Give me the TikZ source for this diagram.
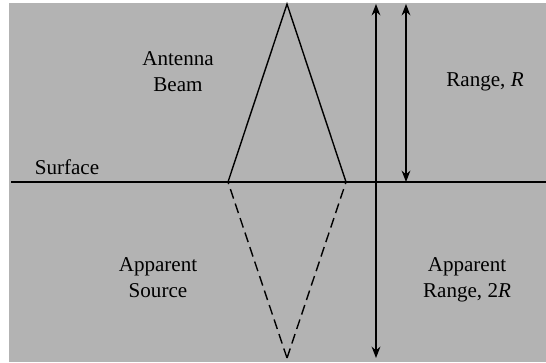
\documentclass[tikz,border=0pt]{standalone}
\usepackage{fontspec}
\setmainfont{LiberationSerif}[Extension=.ttf,UprightFont=*-Regular,ItalicFont=*-Italic,BoldFont=*-Bold]
\usetikzlibrary{arrows.meta}
\definecolor{cBack}{HTML}{B3B3B3}

\begin{document}
\begin{tikzpicture}[x=0.02cm,y=-0.02cm,line width=0.8pt,
  lbl/.style={font=\fontsize{12}{14.8}\selectfont,align=center,inner sep=0pt},
  rng/.style={{Stealth[length=6.5pt,width=5pt]}-{Stealth[length=6.5pt,width=5pt]}}]
  \useasboundingbox (0,0) rectangle (546,362);
  \fill[cBack] (9,3) rectangle (546,362);
  % surface and beam
  \coordinate (sL) at (11,182);  \coordinate (sR) at (546,182);
  \coordinate (apex) at (287,4); \coordinate (image) at (287,358);
  \coordinate (bL) at (228,182); \coordinate (bR) at (346,182);
  \draw (sL) -- (sR);
  \draw (bL) -- (apex) -- (bR);
  \draw[dash pattern=on 5.7pt off 3pt] (image) -- (bL) (image) -- (bR);
  % ranges
  \coordinate (aTop) at (376,4); \coordinate (aBot) at (376,358);
  \coordinate (rTop) at (406,4); \coordinate (rBot) at (406,182);
  \draw[rng] (aTop) -- (aBot);
  \draw[rng] (rTop) -- (rBot);
  % labels
  \node[lbl] (beam) at (178,72) {Antenna\\Beam};
  \node[lbl] (range) at (485,82) {Range, \textit{R}};
  \node[lbl] (surface) at (67,167) {Surface};
  \node[lbl] (source) at (158,278) {Apparent\\Source};
  \node[lbl] (arange) at (467,280) {Apparent\\Range, 2\textit{R}};
\end{tikzpicture}
\end{document}
